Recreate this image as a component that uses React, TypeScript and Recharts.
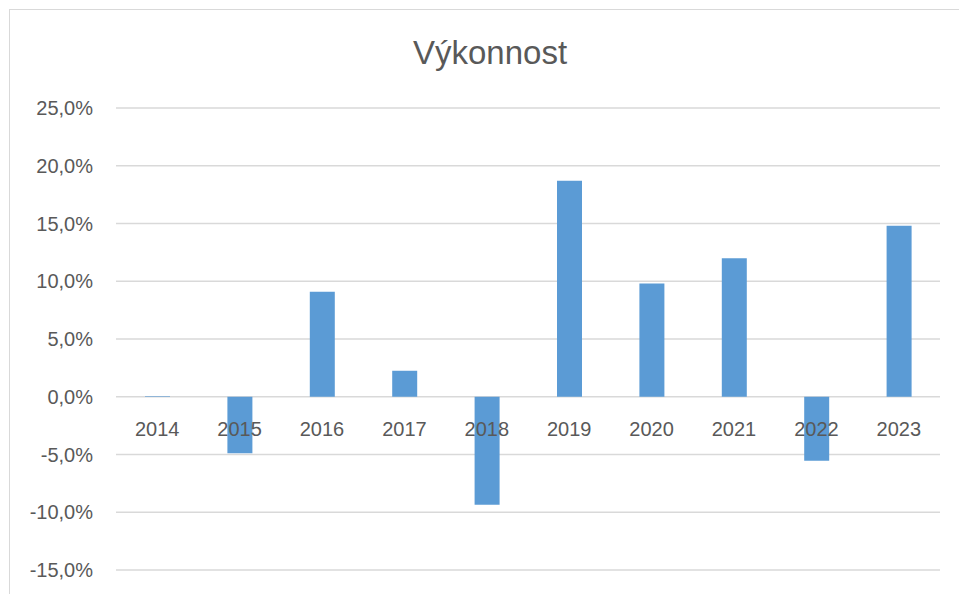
import React from "react";
import { BarChart, Bar, XAxis, YAxis, CartesianGrid, ReferenceDot } from "recharts";

const years = ["2014", "2015", "2016", "2017", "2018", "2019", "2020", "2021", "2022", "2023"];
const performance = [0.05, -4.9, 9.1, 2.25, -9.35, 18.7, 9.8, 12.0, -5.55, 14.8];
const yTicks = [-15, -10, -5, 0, 5, 10, 15, 20, 25];
const title = "Výkonnost";

const data = years.map((y, i) => ({ year: y, value: performance[i] }));

const FONT = "'Liberation Sans', Arial, sans-serif";
const TEXT = "#595959";

const fmt = (v: number) => `${v.toFixed(1).replace(".", ",")}%`;

export default function App() {
  return (
    <div style={{ position: "absolute", left: 0, top: 0, width: 959, height: 594, overflow: "hidden", background: "#fff" }}>
      <div style={{ position: "absolute", left: 9, top: 9, width: 980, height: 620, border: "1px solid #D9D9D9", boxSizing: "border-box" }} />
      <div style={{ position: "absolute", left: 0, top: 33, width: 980, textAlign: "center", fontFamily: FONT, fontSize: 33, color: TEXT, lineHeight: "40px" }}>{title}</div>
      <div style={{ position: "absolute", left: 0, top: 0 }}>
        <BarChart width={959} height={594} data={data} margin={{ top: 108, right: 19, bottom: 24, left: 8 }} barSize={25}>
          <CartesianGrid vertical={false} stroke="#D9D9D9" strokeWidth={1.5} />
          <XAxis dataKey="year" hide />
          <YAxis
            domain={[-15, 25]}
            ticks={yTicks}
            tickFormatter={fmt}
            width={108}
            axisLine={false}
            tickLine={false}
            tickMargin={17}
            tick={{ fill: TEXT, fontSize: 20, fontFamily: FONT }}
            interval={0}
          />
          <Bar dataKey="value" fill="#5B9BD5" isAnimationActive={false} />
          {years.map((y) => (
            <ReferenceDot
              key={y}
              x={y}
              y={0}
              r={0}
              fill="none"
              stroke="none"
              label={{ value: y, position: "bottom", offset: 25, fill: TEXT, fontSize: 20, fontFamily: FONT }}
            />
          ))}
        </BarChart>
      </div>
    </div>
  );
}
